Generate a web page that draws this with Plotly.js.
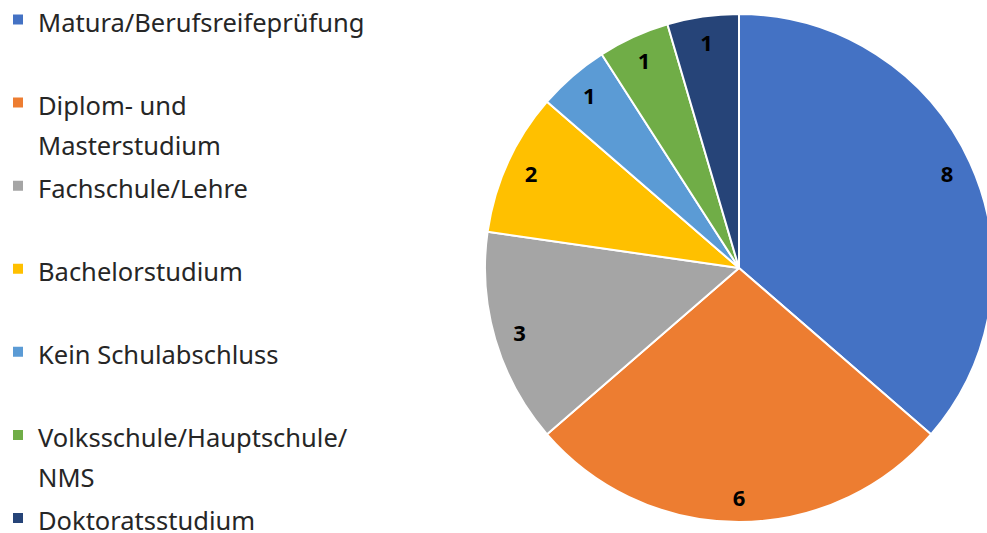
<!DOCTYPE html>
<html>
<head>
<meta charset="utf-8">
<script src="https://cdn.plot.ly/plotly-3.0.1.min.js"></script>
<style>
  html, body { margin: 0; padding: 0; overflow: hidden; background: #fff; }
  #chart { width: 1000px; height: 533px; }
</style>
</head>
<body>
<div id="chart"></div>
<script>
const categories = [
  'Matura/Berufsreifeprüfung',
  'Diplom- und<br>Masterstudium',
  'Fachschule/Lehre',
  'Bachelorstudium',
  'Kein Schulabschluss',
  'Volksschule/Hauptschule/<br>NMS',
  'Doktoratsstudium'
];
const values = [8, 6, 3, 2, 1, 1, 1];
const colors = ['#4472C4', '#ED7D31', '#A5A5A5', '#FFC000', '#5B9BD5', '#70AD47', '#264478'];

// every legend entry (except the last) gets two lines so entries are evenly pitched
const legendLabels = categories.map((c, i) => {
  const pad = !c.includes('<br>') && i < categories.length - 1;
  const txt = pad ? c + '<br>\u00a0' : c;
  return txt.split('<br>').map(s => '<span style="font-size:25.5px">' + s + '</span>').join('<br>');
});

const dom = { x: [0.484, 0.994], y: [0, 1] };

const slices = {
  type: 'pie',
  labels: legendLabels,
  values: values,
  sort: false,
  direction: 'clockwise',
  rotation: 0,
  domain: dom,
  marker: { colors: colors, line: { color: '#ffffff', width: 2 } },
  textinfo: 'none',
  hoverinfo: 'label+value',
  showlegend: true
};

const labelRing = {
  type: 'pie',
  labels: legendLabels,
  values: values,
  sort: false,
  direction: 'clockwise',
  rotation: 0,
  domain: dom,
  hole: 0.8,
  marker: { colors: colors.map(() => 'rgba(0,0,0,0)'), line: { width: 0 } },
  textinfo: 'value',
  textposition: 'inside',
  insidetextorientation: 'horizontal',
  textfont: { family: 'Noto Sans, sans-serif', size: 22, color: '#000', weight: 'bold' },
  hoverinfo: 'skip',
  showlegend: false
};

const layout = {
  width: 1000,
  height: 533,
  margin: { l: 0, r: 0, t: 14, b: 11, autoexpand: false },
  paper_bgcolor: '#ffffff',
  plot_bgcolor: '#ffffff',
  showlegend: true,
  legend: {
    x: -0.002, y: 1.0413, xanchor: 'left', yanchor: 'top',
    xref: 'paper', yref: 'paper',
    font: { family: 'Noto Sans, sans-serif', size: 30.8, color: '#262626' },
    valign: 'top',
    maxheight: 800,
    bgcolor: 'rgba(0,0,0,0)',
    traceorder: 'normal'
  }
};

Plotly.newPlot('chart', [slices, labelRing], layout, { displayModeBar: false, staticPlot: true });
</script>
</body>
</html>
